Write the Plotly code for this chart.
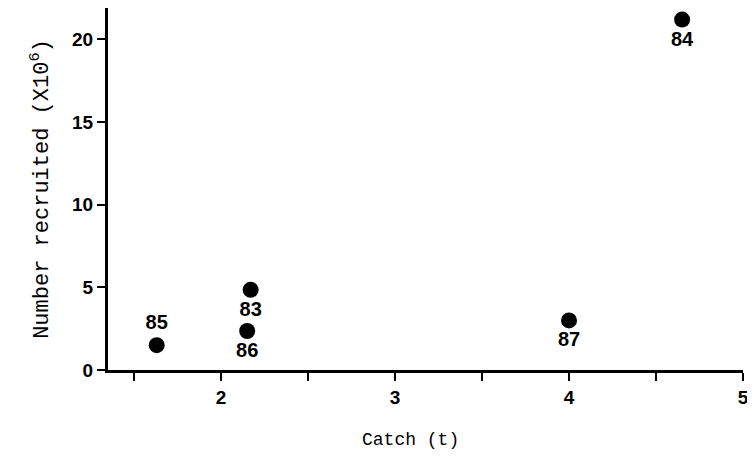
import plotly.graph_objects as go

catch_t = [2.17, 4.65, 1.63, 2.15, 4.00]
recruited = [4.85, 21.2, 1.5, 2.36, 3.0]
year_labels = ["83", "84", "85", "86", "87"]
label_pos = ["bottom center", "bottom center", "top center", "bottom center", "bottom center"]

fig = go.Figure()
fig.add_trace(go.Scatter(
    x=catch_t, y=recruited, mode="markers+text",
    text=year_labels, textposition=label_pos,
    marker=dict(color="black", size=16),
    textfont=dict(family="Liberation Sans, Arial, sans-serif", size=20, color="black", weight="bold"),
    cliponaxis=False, showlegend=False,
))

tick_font = dict(family="Liberation Sans, Arial, sans-serif", size=19, color="black", weight="bold")

fig.update_layout(
    width=747, height=445,
    margin=dict(l=100, r=12, t=0, b=83),
    plot_bgcolor="white", paper_bgcolor="white",
    xaxis=dict(
        range=[1.35, 5.0], tick0=0, dtick=1, automargin=False,
        showline=True, linecolor="black", linewidth=3,
        ticks="outside", ticklen=8, tickwidth=2, tickcolor="black",
        minor=dict(dtick=0.5, tick0=0, ticks="outside", ticklen=8, tickwidth=2, tickcolor="black"),
        showgrid=False, zeroline=False,
        tickfont=tick_font, ticklabeloverflow="allow",
    ),
    yaxis=dict(
        range=[0, 21.9], tick0=0, dtick=5, automargin=False,
        showline=True, linecolor="black", linewidth=3,
        ticks="outside", ticklen=8, tickwidth=2, tickcolor="black",
        showgrid=False, zeroline=False,
        tickfont=tick_font,
        title=dict(text="Number recruited (X10<sup>6</sup>)", font=dict(family="Liberation Mono, monospace", size=22, color="black"), standoff=18),
    ),
    annotations=[dict(
        text="Catch (t)", xref="paper", yref="paper", x=0.477, y=-0.193,
        xanchor="center", yanchor="middle", showarrow=False,
        font=dict(family="Liberation Mono, monospace", size=18, color="black"),
    )],
)

fig.write_html("out.html")
